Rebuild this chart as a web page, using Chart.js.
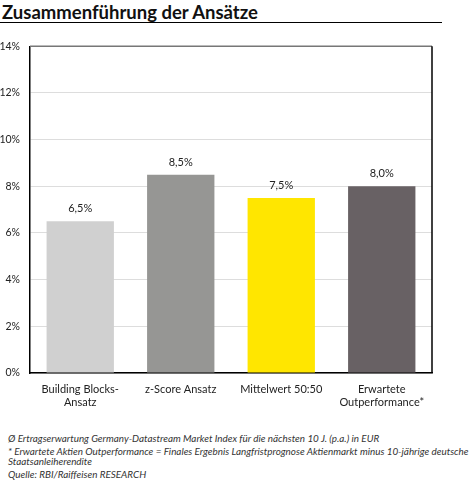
<!DOCTYPE html>
<html>
<head>
<meta charset="utf-8">
<script src="https://cdn.jsdelivr.net/npm/chart.js@4"></script>
<style>
  body { margin: 0; background: #fff; width: 472px; height: 480px; position: relative; font-family: Lato, sans-serif; }
  #title { position: absolute; left: 2px; top: 1px; font-size: 18.5px; font-weight: bold; color: #111; }
  #rule { position: absolute; left: 0; top: 22px; width: 442px; height: 0; border-top: 1.5px solid #000; }
  #wrap { position: absolute; left: 0; top: 30px; width: 434px; height: 378px; }
  .note { position: absolute; left: 8px; font-size: 9.9px; line-height: 12px; font-style: italic; color: #333; white-space: nowrap; }
</style>
</head>
<body>
<div id="title">Zusammenführung der Ansätze</div>
<div id="rule"></div>
<div id="wrap"><canvas id="chart"></canvas></div>
<div class="note" style="top:432px">Ø Ertragserwartung Germany-Datastream Market Index für die nächsten 10 J. (p.a.) in EUR</div>
<div class="note" style="top:445px">* Erwartete Aktien Outperformance = Finales Ergebnis Langfristprognose Aktienmarkt minus 10-jährige deutsche</div>
<div class="note" style="top:455px">Staatsanleiherendite</div>
<div class="note" style="top:468px">Quelle: RBI/Raiffeisen RESEARCH</div>
<script>
const categories = [['Building Blocks-', 'Ansatz'], 'z-Score Ansatz', 'Mittelwert 50:50', ['Erwartete', 'Outperformance*']];
const values = [6.5, 8.5, 7.5, 8.0];
const barColors = ['#d0d0d0', '#969694', '#ffe600', '#686164'];
const yTicks = [0, 2, 4, 6, 8, 10, 12, 14];

const frame = {
    id: 'frame',
    afterDraw(chart) {
        const a = chart.chartArea, c = chart.ctx;
        c.save();
        c.lineWidth = 1.5;
        c.strokeStyle = '#777';
        c.beginPath(); c.moveTo(a.left, a.top); c.lineTo(a.right, a.top); c.stroke();
        c.strokeStyle = '#000';
        c.beginPath(); c.moveTo(a.right, a.top); c.lineTo(a.right, a.bottom); c.stroke();
        c.restore();
    }
};

const valueLabels = {
    id: 'valueLabels',
    afterDatasetsDraw(chart) {
        const c = chart.ctx;
        c.save();
        c.font = '11px Lato, sans-serif';
        c.fillStyle = '#222';
        c.textAlign = 'center';
        c.textBaseline = 'bottom';
        chart.getDatasetMeta(0).data.forEach((bar, i) => {
            c.fillText(values[i].toFixed(1).replace('.', ',') + '%', bar.x, bar.y - 7);
        });
        c.restore();
    }
};

new Chart(document.getElementById('chart'), {
    type: 'bar',
    data: {
        labels: categories,
        datasets: [{
            data: values,
            backgroundColor: barColors,
            categoryPercentage: 0.67,
            barPercentage: 1
        }]
    },
    options: {
        responsive: true,
        maintainAspectRatio: false,
        animation: false,
        layout: { padding: { top: 7, right: 2, left: 0, bottom: 0 } },
        plugins: { legend: { display: false }, tooltip: { enabled: false } },
        scales: {
            x: {
                grid: { display: false },
                border: { color: '#000', width: 1.5 },
                ticks: { color: '#222', font: { family: 'Lato', size: 11, lineHeight: 1.15 }, padding: 2, maxRotation: 0 },
                afterFit(scale) { scale.height = 35; }
            },
            y: {
                min: 0,
                max: 14,
                afterBuildTicks(scale) { scale.ticks = yTicks.map(v => ({ value: v })); },
                grid: { color: '#dddddd', lineWidth: 1, drawTicks: false },
                border: { color: '#000', width: 1.5 },
                ticks: {
                    color: '#222',
                    font: { family: 'Lato', size: 10.5 },
                    padding: 10,
                    callback: v => v + '%'
                },
                afterFit(scale) { scale.width = 30; }
            }
        }
    },
    plugins: [frame, valueLabels]
});
</script>
</body>
</html>
